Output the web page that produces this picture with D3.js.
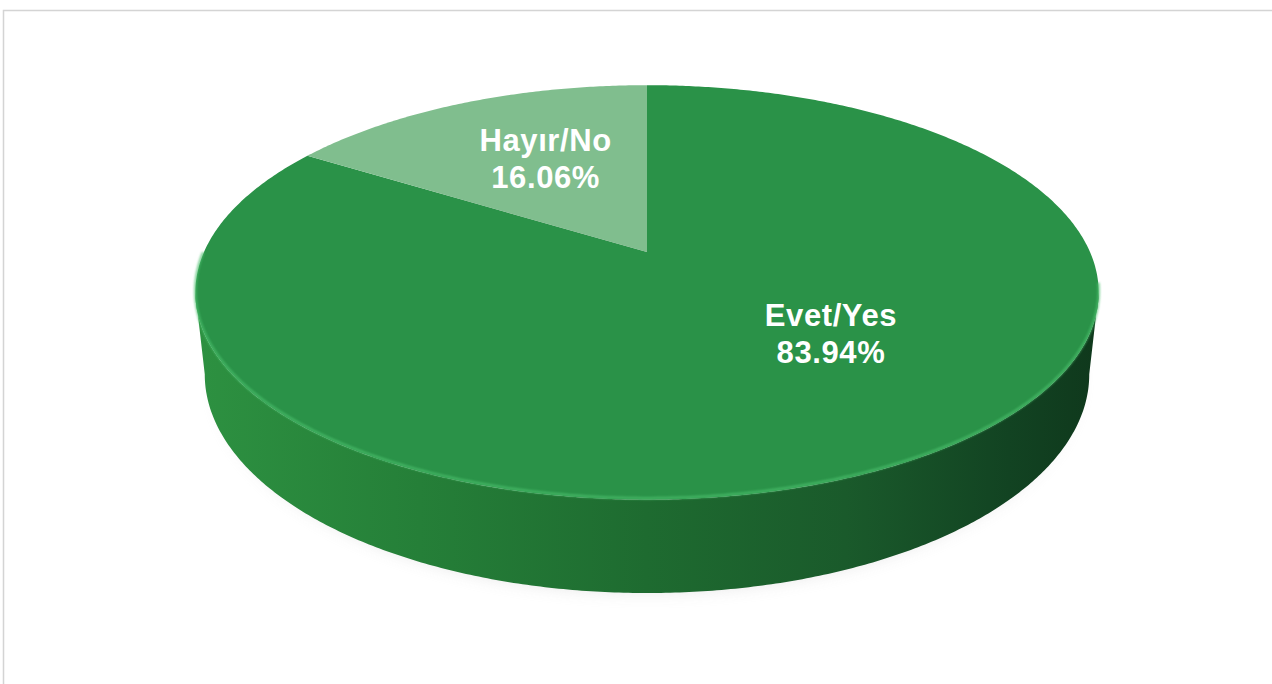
<!DOCTYPE html>
<head>
    <title>Evet / Hayir 3D pie</title>
    <style>
        body {
            margin: 0;
            background: #ffffff;
        }

        .pie-label {
            font-family: "Liberation Sans", Arial, sans-serif;
            font-weight: bold;
            font-size: 31px;
            letter-spacing: 0.6px;
            fill: #ffffff;
        }
    </style>
</head>

<body>

<script src="https://cdn.jsdelivr.net/npm/d3@7/dist/d3.min.js"></script>

<script type="text/javascript">
    // data
    var categories = ["Evet/Yes", "Hayır/No"];
    var values = [83.94, 16.06];
    var valueLabels = ["83.94%", "16.06%"];

    // slice colours (top face)
    var sliceColor = d3.scaleOrdinal()
        .domain(categories)
        .range(["#2a9248", "#80be8e"]);

    // frame size
    var frameWidth = 1272
    var frameHeight = 684

    // perspective of the tilted disc
    var cx = 647        // projected centre of top face
    var cy = 252
    var a = 443         // horizontal scale
    var sinA = 0.45     // tilt
    var cosA = 0.892
    var k = 0.195       // perspective strength
    var thick = 0.208   // thickness / radius
    var hz = 0.0205     // extra depth for the bottom rim

    // project a point of the disc (angle clockwise from 12 o'clock, radius 0..1, 0 = top, 1 = bottom)
    function project(theta, r, depth) {
        var u = r * Math.sin(theta);
        var w = r * Math.cos(theta);
        var den = 1 + k * w + depth * hz;
        return [cx + a * u / den, cy - a * (w * sinA - depth * thick * cosA) / den];
    }

    // where the labels sit on the disc: [angle deg, radius]
    var labelSpot = {"Evet/Yes": [134.6, 0.54], "Hayır/No": [333.8, 0.57]};

    var svg = d3.select("body")
        .append("svg")
        .attr("width", frameWidth)
        .attr("height", frameHeight);

    var defs = svg.append("defs");

    var sideGrad = defs.append("linearGradient")
        .attr("id", "sideGrad")
        .attr("gradientUnits", "userSpaceOnUse")
        .attr("x1", 193).attr("y1", 0)
        .attr("x2", 1100).attr("y2", 0);
    [[0, "#2d9141"], [0.25, "#257f38"], [0.5, "#1e6b30"], [0.72, "#1a5a2b"], [0.9, "#124322"], [1, "#0f381c"]]
        .forEach(function (s) {
            sideGrad.append("stop").attr("offset", s[0]).attr("stop-color", s[1]);
        });

    defs.append("filter")
        .attr("id", "shadowBlur")
        .attr("x", "-20%").attr("y", "-50%")
        .attr("width", "140%").attr("height", "200%")
        .append("feGaussianBlur")
        .attr("stdDeviation", 9);

    defs.append("filter")
        .attr("id", "rimBlur")
        .append("feGaussianBlur")
        .attr("stdDeviation", 1);

    // chart frame
    svg.append("rect")
        .attr("x", 3.5)
        .attr("y", 10.5)
        .attr("width", 1300)
        .attr("height", 700)
        .attr("fill", "none")
        .attr("stroke", "#d4d4d4")
        .attr("stroke-width", 1.5);

    var line = d3.line();
    var step = Math.PI / 360;

    // shadow under the pie
    var shadowPts = d3.range(0, 2 * Math.PI + step, step).map(function (t) {
        var p = project(t, 0.97, 1);
        return [p[0], p[1] + 6];
    });
    svg.append("path")
        .attr("d", line(shadowPts) + "Z")
        .attr("fill", "#b8b8b8")
        .attr("opacity", 0.45)
        .attr("filter", "url(#shadowBlur)");

    // outer wall: front arc of top rim and bottom rim, between their silhouettes
    function extremes(depth) {
        var pts = d3.range(Math.PI / 3, 5 * Math.PI / 3, step / 4).map(function (t) {
            return {t: t, p: project(t, 1, depth)};
        });
        var right = d3.greatest(pts, function (d) { return d.p[0]; });
        var left = d3.least(pts, function (d) { return d.p[0]; });
        return [right.t, left.t];
    }
    var topEx = extremes(0);
    var botEx = extremes(1);
    var topArc = d3.range(topEx[0], topEx[1], step).map(function (t) { return project(t, 1, 0); });
    topArc.push(project(topEx[1], 1, 0));
    var botArc = d3.range(botEx[1], botEx[0], -step).map(function (t) { return project(t, 1, 1); });
    botArc.push(project(botEx[0], 1, 1));

    svg.append("path")
        .attr("d", line(topArc.concat(botArc)) + "Z")
        .attr("fill", "url(#sideGrad)");

    // top faces of the slices
    var pie = d3.pie()
        .sort(null)
        .value(function (d) { return d; });

    var arcs = pie(values);

    svg.selectAll(".slice")
        .data(arcs)
        .enter()
        .append("path")
        .attr("class", "slice")
        .attr("d", function (d) {
            var pts = [project(0, 0, 0)];
            var t;
            for (t = d.startAngle; t < d.endAngle; t += step) {
                pts.push(project(t, 1, 0));
            }
            pts.push(project(d.endAngle, 1, 0));
            return line(pts) + "Z";
        })
        .attr("fill", function (d, i) { return sliceColor(categories[i]); });

    // light bevel along the front edge
    var rimPts = d3.range(Math.PI * 0.55, Math.PI * 1.5, step).map(function (t) {
        var p = project(t, 1, 0);
        return [p[0], p[1] - 1.5];
    });
    svg.append("path")
        .attr("d", line(rimPts))
        .attr("fill", "none")
        .attr("stroke", "#4cc06d")
        .attr("stroke-width", 2.5)
        .attr("opacity", 0.75)
        .attr("filter", "url(#rimBlur)");

    // labels
    var labels = svg.selectAll(".pie-label")
        .data(arcs)
        .enter()
        .append("text")
        .attr("class", "pie-label")
        .attr("text-anchor", "middle")
        .attr("transform", function (d, i) {
            var spot = labelSpot[categories[i]];
            var p = project(spot[0] * Math.PI / 180, spot[1], 0);
            return "translate(" + p[0] + "," + p[1] + ")";
        });

    labels.append("tspan")
        .attr("x", 0)
        .attr("y", -8)
        .text(function (d, i) { return categories[i]; });

    labels.append("tspan")
        .attr("x", 0)
        .attr("y", 29)
        .text(function (d, i) { return valueLabels[i]; });

</script>

</body>
